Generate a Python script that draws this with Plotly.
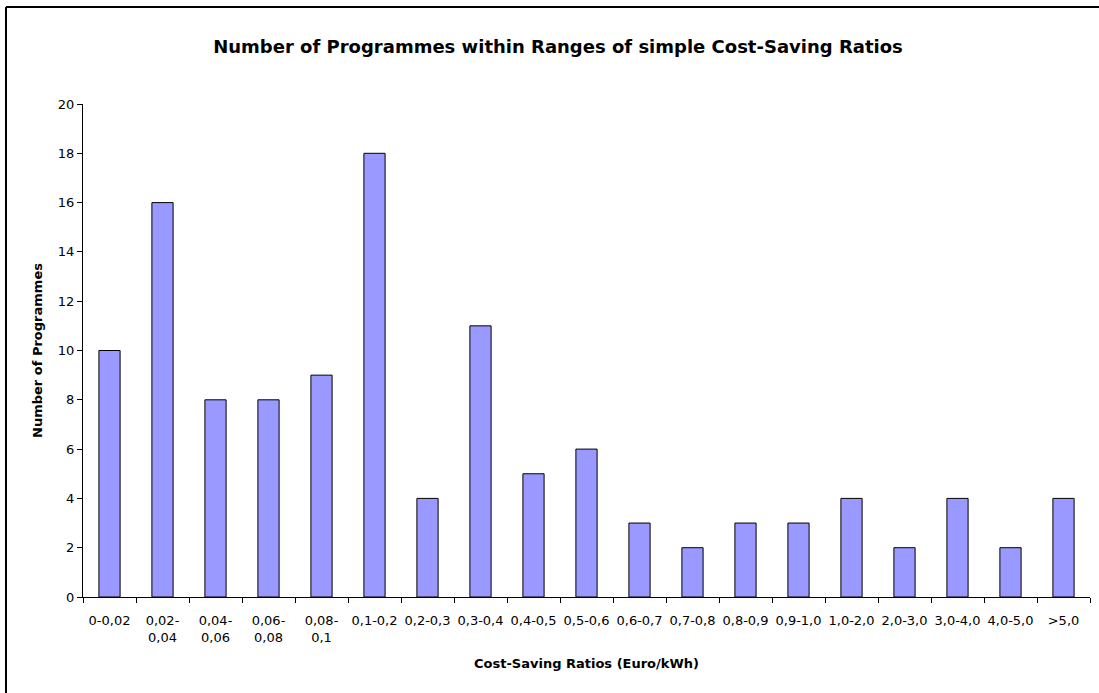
import plotly.graph_objects as go

categories = [
    "0-0,02", "0,02-<br>0,04", "0,04-<br>0,06", "0,06-<br>0,08", "0,08-<br>0,1",
    "0,1-0,2", "0,2-0,3", "0,3-0,4", "0,4-0,5", "0,5-0,6", "0,6-0,7",
    "0,7-0,8", "0,8-0,9", "0,9-1,0", "1,0-2,0", "2,0-3,0", "3,0-4,0",
    "4,0-5,0", ">5,0",
]
programmes = [10, 16, 8, 8, 9, 18, 4, 11, 5, 6, 3, 2, 3, 3, 4, 2, 4, 2, 4]
y_ticks = list(range(0, 21, 2))

W, H = 1099, 693
L, R, T, B = 83, 9, 104, 96
plot_w = W - L - R
plot_h = H - T - B

FONT = "DejaVu Sans, Liberation Sans, Arial, sans-serif"

fig = go.Figure(
    go.Bar(
        x=categories,
        y=programmes,
        marker=dict(color="#9999FF", line=dict(color="#000000", width=1)),
        hoverinfo="x+y",
    )
)

# frame lines along the left and top edges of the chart area
bx = (6 - L) / plot_w
by = (H - B - 7) / plot_h
fig.add_shape(type="line", xref="paper", yref="paper", x0=bx, x1=bx, y0=-0.5, y1=by,
              line=dict(color="#000000", width=2))
fig.add_shape(type="line", xref="paper", yref="paper", x0=bx, x1=1.5, y0=by, y1=by,
              line=dict(color="#000000", width=2))

fig.update_layout(
    width=W,
    height=H,
    margin=dict(l=L, r=R, t=T, b=B, autoexpand=False),
    paper_bgcolor="white",
    plot_bgcolor="white",
    bargap=0.6,
    showlegend=False,
    font=dict(family=FONT, size=13, color="#000000"),
    title=dict(
        text="<b>Number of Programmes within Ranges of simple Cost-Saving Ratios</b>",
        font=dict(family=FONT, size=18, color="#000000"),
        x=558 / W, xanchor="center", xref="container",
        y=1 - 47 / H, yanchor="middle", yref="container",
    ),
    xaxis=dict(
        type="category",
        showline=True, linecolor="#000000", linewidth=1,
        ticks="outside", tickson="boundaries", ticklen=5, tickcolor="#000000",
        tickangle=0, ticklabelstandoff=11,
        showgrid=False,
        tickfont=dict(family=FONT, size=13),
        title=dict(text="<b>Cost-Saving Ratios (Euro/kWh)</b>",
                   font=dict(family=FONT, size=13), standoff=15),
    ),
    yaxis=dict(
        range=[0, 20],
        tickvals=y_ticks,
        showline=True, linecolor="#000000", linewidth=1,
        ticks="outside", ticklen=5, tickcolor="#000000",
        showgrid=False, zeroline=False,
        tickfont=dict(family=FONT, size=13),
        title=dict(text="<b>Number of Programmes</b>",
                   font=dict(family=FONT, size=13), standoff=12),
    ),
)

fig.write_html("out.html")
